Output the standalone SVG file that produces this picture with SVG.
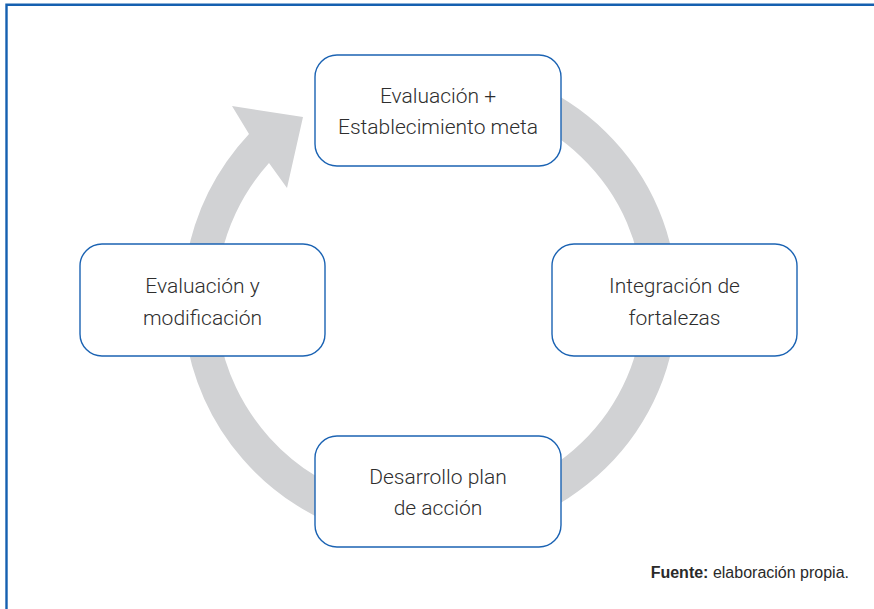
<svg xmlns="http://www.w3.org/2000/svg" width="874" height="609" viewBox="0 0 874 609">
<style>
.box{fill:#ffffff;stroke:#1b63b3;stroke-width:1.4}
.lbl{font-family:Roboto,"Liberation Sans",Arial,sans-serif;font-weight:300;font-size:21px;fill:#2e2e2e;text-anchor:middle}
.ft{font-family:"Liberation Sans",Arial,sans-serif;font-size:16px;fill:#2a2a2a}
</style>
<rect x="0" y="0" width="874" height="609" fill="#ffffff"/>
<path d="M6.5,609 V4.7 H874" fill="none" stroke="#1560b0" stroke-width="2.4"/>
<g id="connectors">
<path id="cycle-arrow" fill="#d1d2d4" d="M433,62 A244,238 0 0 1 433,538 L433,544 A247,244 0 0 1 249,134 L232,106 L303,117 L287,188 L269,163 A213,208 0 0 0 433,508 L433,502 A210,202 0 0 0 433,98 Z"/>
</g>
<g id="node-top">
<rect class="box" x="315" y="55" width="246" height="111" rx="22"/>
<text class="lbl" x="438" y="103">Evaluación +</text>
<text class="lbl" x="438" y="134">Establecimiento meta</text>
</g>
<g id="node-right">
<rect class="box" x="552" y="244" width="245" height="112" rx="22"/>
<text class="lbl" x="674.5" y="293">Integración de</text>
<text class="lbl" x="674.5" y="325">fortalezas</text>
</g>
<g id="node-bottom">
<rect class="box" x="315" y="436" width="246" height="111" rx="22"/>
<text class="lbl" x="438" y="484">Desarrollo plan</text>
<text class="lbl" x="438" y="515">de acción</text>
</g>
<g id="node-left">
<rect class="box" x="80" y="244" width="245" height="112" rx="22"/>
<text class="lbl" x="202.5" y="293">Evaluación y</text>
<text class="lbl" x="202.5" y="325">modificación</text>
</g>
<text class="ft" x="849" y="578" text-anchor="end"><tspan font-weight="bold">Fuente:</tspan> elaboración propia.</text>
</svg>
